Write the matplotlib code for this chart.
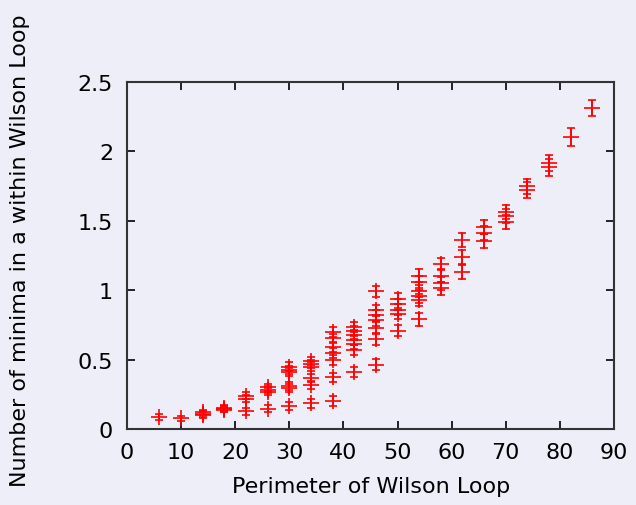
import numpy as np
import matplotlib
matplotlib.use("Agg")
import matplotlib.pyplot as plt

# perimeter of the loop, one entry per measured point
perimeter = [6, 10, 14, 14, 14, 18, 18, 18,
             22, 22, 22, 26, 26, 26, 26,
             30, 30, 30, 30, 30, 30,
             34, 34, 34, 34, 34, 34,
             38, 38, 38, 38, 38, 38, 38,
             42, 42, 42, 42, 42, 42, 42,
             46, 46, 46, 46, 46, 46, 46,
             50, 50, 50, 50, 50,
             54, 54, 54, 54, 54, 54,
             58, 58, 58, 58,
             62, 62, 62,
             66, 66, 66,
             70, 70, 70,
             74, 74,
             78, 78,
             82, 86]

minima = [0.086, 0.077, 0.10, 0.11, 0.12, 0.14, 0.145, 0.15,
          0.24, 0.22, 0.13, 0.27, 0.285, 0.30, 0.146,
          0.45, 0.427, 0.413, 0.31, 0.295, 0.168,
          0.49, 0.468, 0.45, 0.367, 0.32, 0.185,
          0.70, 0.653, 0.589, 0.548, 0.50, 0.372, 0.20,
          0.737, 0.706, 0.677, 0.643, 0.612, 0.569, 0.413,
          0.992, 0.857, 0.82, 0.785, 0.73, 0.648, 0.463,
          0.94, 0.90, 0.86, 0.83, 0.71,
          1.105, 1.06, 0.996, 0.956, 0.93, 0.79,
          1.19, 1.105, 1.05, 1.014,
          1.364, 1.237, 1.133,
          1.453, 1.412, 1.357,
          1.566, 1.532, 1.494,
          1.749, 1.722,
          1.916, 1.886,
          2.106, 2.313]

errors = [0.02, 0.02, 0.02, 0.02, 0.02, 0.02, 0.02, 0.02,
          0.025, 0.025, 0.025, 0.025, 0.025, 0.025, 0.025,
          0.03, 0.03, 0.03, 0.03, 0.03, 0.03,
          0.03, 0.03, 0.03, 0.03, 0.03, 0.03,
          0.035, 0.035, 0.035, 0.035, 0.035, 0.035, 0.035,
          0.035, 0.035, 0.035, 0.035, 0.035, 0.035, 0.035,
          0.04, 0.04, 0.04, 0.04, 0.04, 0.04, 0.04,
          0.04, 0.04, 0.04, 0.04, 0.04,
          0.045, 0.045, 0.045, 0.045, 0.045, 0.045,
          0.045, 0.045, 0.045, 0.045,
          0.05, 0.05, 0.05,
          0.05, 0.05, 0.05,
          0.05, 0.05, 0.05,
          0.055, 0.055,
          0.06, 0.06,
          0.065, 0.058]

bg = "#eeeef8"

fig = plt.figure(figsize=(6.36, 5.06), dpi=100, facecolor=bg)
ax = fig.add_axes([0.1997, 0.150, 0.7657, 0.686], facecolor=bg)

ax.errorbar(perimeter, minima, yerr=errors, fmt="+", color="red",
            markersize=12, markeredgewidth=1.4, elinewidth=1.4,
            capsize=3, capthick=1.4, alpha=0.85)

ax.set_xlim(0, 90)
ax.set_ylim(0, 2.5)
ax.set_xticks(np.arange(0, 91, 10))
ax.set_yticks([0, 0.5, 1, 1.5, 2, 2.5])
ax.set_yticklabels(["0", "0.5", "1", "1.5", "2", "2.5"])
ax.tick_params(direction="in", length=6, width=1.2, top=True, right=True,
               labelsize=16, colors="black")
ax.tick_params(axis="y", pad=10)
ax.tick_params(axis="x", pad=9)
for s in ax.spines.values():
    s.set_linewidth(1.5)
    s.set_color("#333333")

ax.set_xlabel("Perimeter of Wilson Loop", fontsize=16)
ax.set_ylabel("Number of minima in a within Wilson Loop", fontsize=16)
ax.xaxis.set_label_coords(0.501, -0.135)
ax.yaxis.set_label_coords(-0.199, 0.516)

fig.savefig("out.png", dpi=100, facecolor=bg)
